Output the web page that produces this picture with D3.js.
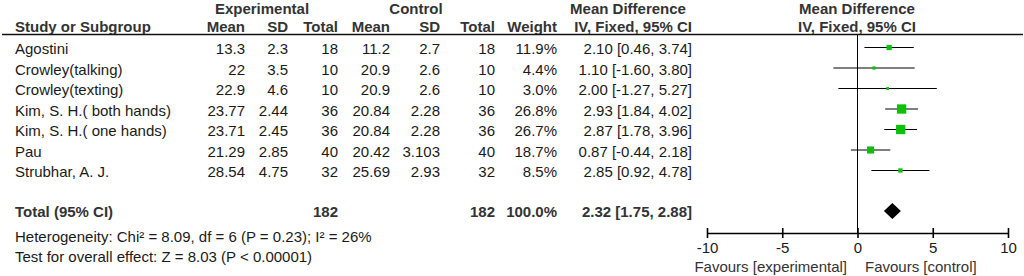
<!DOCTYPE html>
<html>
<head>
<meta charset="utf-8">
<script src="https://cdn.jsdelivr.net/npm/d3@7"></script>
<style>
  body { margin: 0; background: #fff; }
  svg { font-family: Arial, "Liberation Sans", sans-serif; }
</style>
</head>
<body>
<div id="chart"></div>
<script>
// study data
const studies = ["Agostini", "Crowley(talking)", "Crowley(texting)", "Kim, S. H.( both hands)", "Kim, S. H.( one hands)", "Pau", "Strubhar, A. J."];
const expMean = ["13.3", "22", "22.9", "23.77", "23.71", "21.29", "28.54"];
const expSD = ["2.3", "3.5", "4.6", "2.44", "2.45", "2.85", "4.75"];
const expN = [18, 10, 10, 36, 36, 40, 32];
const ctrlMean = ["11.2", "20.9", "20.9", "20.84", "20.84", "20.42", "25.69"];
const ctrlSD = ["2.7", "2.6", "2.6", "2.28", "2.28", "3.103", "2.93"];
const ctrlN = [18, 10, 10, 36, 36, 40, 32];
const weight = [11.9, 4.4, 3.0, 26.8, 26.7, 18.7, 8.5];
const md = [2.10, 1.10, 2.00, 2.93, 2.87, 0.87, 2.85];
const lo = [0.46, -1.60, -1.27, 1.84, 1.78, -0.44, 0.92];
const hi = [3.74, 3.80, 5.27, 4.02, 3.96, 2.18, 4.78];

// pooled estimate
const total = {n1: 182, n2: 182, weight: 100.0, md: 2.32, lo: 1.75, hi: 2.88};
const heterogeneity = "Heterogeneity: Chi\u00b2 = 8.09, df = 6 (P = 0.23); I\u00b2 = 26%";
const overallTest = "Test for overall effect: Z = 8.03 (P < 0.00001)";
const axisTicks = [-10, -5, 0, 5, 10];

const width = 1024, height = 276;
const svg = d3.select("#chart").append("svg")
    .attr("width", width).attr("height", height);

// column right edges for the table part
const col = {exMean: 245, exSD: 288, exN: 338, ctMean: 390, ctSD: 440, ctN: 495, w: 557, ci: 692};

// rows (y of the CI line)
const y = d3.scalePoint().domain(d3.range(studies.length)).range([47, 170]);
const totalY = 211;

// forest plot scale
const x = d3.scaleLinear().domain([-10, 10]).range([707, 1008]);
const axisY = 233;

const textCol = "#1a1a1a", headCol = "#333";
const fs = 15;
const fmt2 = v => v.toFixed(2);
const ciText = (m, l, h) => fmt2(m) + " [" + fmt2(l) + ", " + fmt2(h) + "]";

// headers
const head = svg.append("g").attr("font-weight", "bold").attr("fill", headCol).attr("font-size", fs);
head.append("text").attr("x", 262).attr("y", 14).attr("text-anchor", "middle").text("Experimental");
head.append("text").attr("x", 416).attr("y", 14).attr("text-anchor", "middle").text("Control");
head.append("text").attr("x", 628).attr("y", 14).attr("text-anchor", "middle").text("Mean Difference");
head.append("text").attr("x", 857).attr("y", 14).attr("text-anchor", "middle").text("Mean Difference");
head.append("text").attr("x", 15).attr("y", 32).text("Study or Subgroup");
[["Mean", col.exMean], ["SD", col.exSD], ["Total", col.exN], ["Mean", col.ctMean], ["SD", col.ctSD],
 ["Total", col.ctN], ["Weight", col.w], ["IV, Fixed, 95% CI", col.ci]].forEach(function (h) {
    head.append("text").attr("x", h[1]).attr("y", 32).attr("text-anchor", "end").text(h[0]);
});
head.append("text").attr("x", 857).attr("y", 32).attr("text-anchor", "middle").text("IV, Fixed, 95% CI");

svg.append("line").attr("x1", 2).attr("x2", 1023).attr("y1", 34.5).attr("y2", 34.5)
    .attr("stroke", "#111").attr("stroke-width", 1.5);

// study rows
const rows = svg.append("g").attr("font-size", fs).attr("fill", textCol);
studies.forEach(function (s, i) {
    const yy = y(i) + 7;
    rows.append("text").attr("x", 15).attr("y", yy).text(s);
    const cells = [[expMean[i], col.exMean], [expSD[i], col.exSD], [expN[i], col.exN],
        [ctrlMean[i], col.ctMean], [ctrlSD[i], col.ctSD], [ctrlN[i], col.ctN],
        [weight[i].toFixed(1) + "%", col.w], [ciText(md[i], lo[i], hi[i]), col.ci]];
    cells.forEach(function (c) {
        rows.append("text").attr("x", c[1]).attr("y", yy).attr("text-anchor", "end").text(c[0]);
    });
});

// total row
const tot = svg.append("g").attr("font-size", fs).attr("font-weight", "bold").attr("fill", headCol);
tot.append("text").attr("x", 15).attr("y", totalY + 6).text("Total (95% CI)");
[[total.n1, col.exN], [total.n2, col.ctN], [total.weight.toFixed(1) + "%", col.w],
 [ciText(total.md, total.lo, total.hi), col.ci]].forEach(function (c) {
    tot.append("text").attr("x", c[1]).attr("y", totalY + 6).attr("text-anchor", "end").text(c[0]);
});
svg.append("text").attr("x", 15).attr("y", 242).attr("font-size", fs).attr("fill", textCol).text(heterogeneity);
svg.append("text").attr("x", 15).attr("y", 262).attr("font-size", fs).attr("fill", textCol).text(overallTest);

// forest plot
const plot = svg.append("g");
plot.append("line").attr("x1", x(0)).attr("x2", x(0)).attr("y1", 35).attr("y2", axisY)
    .attr("stroke", "#000").attr("stroke-width", 1);

plot.selectAll("line.ci").data(studies).enter().append("line").attr("class", "ci")
    .attr("x1", (d, i) => x(lo[i])).attr("x2", (d, i) => x(hi[i]))
    .attr("y1", (d, i) => y(i) + 0.5).attr("y2", (d, i) => y(i) + 0.5)
    .attr("stroke", "#000").attr("stroke-width", 1);

// square size grows with the study weight
const side = d3.scaleLinear().domain([0, 30]).range([2, 10.2]);
plot.selectAll("rect.sq").data(studies).enter().append("rect").attr("class", "sq")
    .attr("x", (d, i) => x(md[i]) - side(weight[i]) / 2)
    .attr("y", (d, i) => y(i) + 0.5 - side(weight[i]) / 2)
    .attr("width", (d, i) => side(weight[i]))
    .attr("height", (d, i) => side(weight[i]))
    .attr("fill", "#0cc00c");

// pooled diamond
plot.append("path")
    .attr("d", "M" + x(total.lo) + "," + totalY + "L" + x(total.md) + "," + (totalY - 8) +
        "L" + x(total.hi) + "," + totalY + "L" + x(total.md) + "," + (totalY + 8) + "Z")
    .attr("fill", "#000");

// axis
const axis = plot.append("g").attr("transform", "translate(0," + axisY + ")")
    .call(d3.axisBottom(x).tickValues(axisTicks).tickFormat(d => String(d))
        .tickSize(5).tickSizeOuter(0).tickPadding(4));
axis.select(".domain").attr("stroke", "#000").attr("stroke-width", 1.6);
axis.selectAll(".tick line").attr("y1", -5).attr("stroke", "#000").attr("stroke-width", 1.6);
axis.selectAll(".tick text").attr("font-size", fs).attr("fill", textCol)
    .attr("font-family", "Arial, 'Liberation Sans', sans-serif");

svg.append("text").attr("x", 847).attr("y", 272).attr("text-anchor", "end")
    .attr("font-size", fs).attr("fill", "#333").text("Favours [experimental]");
svg.append("text").attr("x", 865).attr("y", 272)
    .attr("font-size", fs).attr("fill", "#333").text("Favours [control]");
</script>
</body>
</html>
